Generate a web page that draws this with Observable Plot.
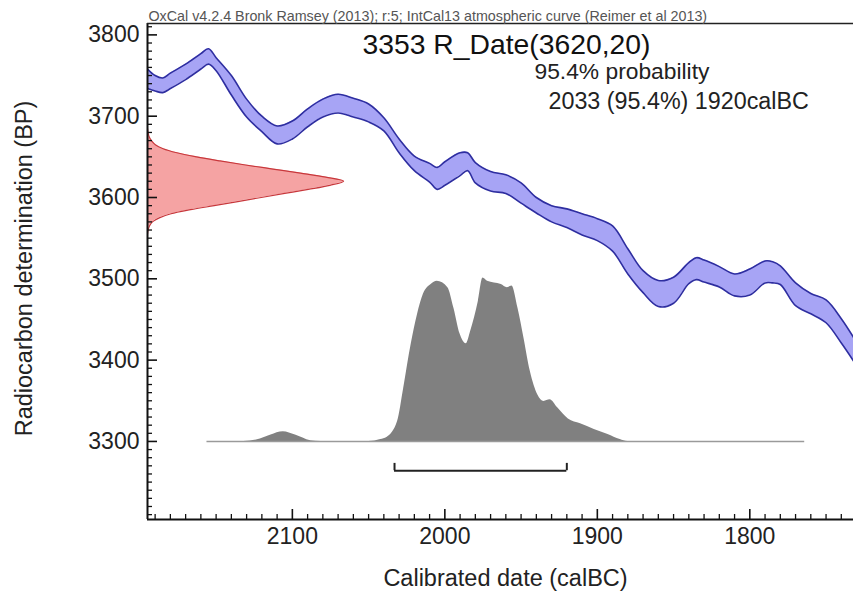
<!DOCTYPE html>
<html><head><meta charset="utf-8">
<script src="https://cdn.jsdelivr.net/npm/d3@7"></script>
<script src="https://cdn.jsdelivr.net/npm/@observablehq/plot@0.6"></script>
<style>
html,body{margin:0;padding:0;background:#fff;}
#chart svg{display:block}
</style></head><body><div id="chart"></div>
<script>
// IntCal13 calibration curve band (upper and lower edges, BP) by calendar year (calBC)
const curveYears = [2195,2190,2185,2180,2170,2160,2155,2150,2140,2130,2120,2110,2100,2090,2080,2070,2060,2050,2040,2030,2020,2010,2005,2000,1990,1985,1980,1970,1960,1950,1940,1930,1920,1910,1900,1890,1880,1870,1860,1850,1840,1835,1830,1820,1810,1800,1790,1785,1780,1770,1760,1750,1740,1732];
const curveUpper = [3758,3750,3747,3753,3764,3777,3783,3772,3750,3721,3700,3688,3694,3709,3721,3727,3722,3715,3698,3672,3651,3642,3637,3644,3655,3655,3643,3632,3628,3618,3600,3590,3586,3580,3574,3565,3537,3510,3498,3502,3520,3526,3523,3515,3506,3512,3522,3521,3516,3495,3482,3474,3451,3428];
const curveLower = [3734,3731,3729,3734,3745,3758,3764,3756,3726,3699,3681,3666,3672,3687,3699,3704,3699,3693,3682,3655,3633,3619,3610,3615,3627,3633,3618,3608,3605,3593,3581,3570,3563,3554,3547,3534,3506,3483,3466,3470,3494,3499,3496,3490,3479,3480,3495,3495,3493,3467,3457,3446,3421,3399];

// Radiocarbon measurement distribution (relative probability by BP)
const rBP   = [3685,3680,3675,3670,3665,3660,3655,3650,3645,3640,3635,3630,3625,3620,3615,3610,3605,3600,3595,3590,3585,3580,3575,3570,3565,3560,3555];
const rProb = [0,0.003,0.008,0.02,0.04,0.08,0.15,0.25,0.37,0.5,0.64,0.78,0.91,1.0,0.93,0.82,0.7,0.58,0.46,0.34,0.22,0.12,0.06,0.025,0.01,0.003,0];

// Calibrated distribution (relative probability by calBC)
const calYears = [2156,2132,2121,2114,2106,2098,2088,2081,2050,2042,2038,2031,2027,2022,2018,2014,2009,2005,1998,1994,1990,1986,1983,1978,1975,1972,1963,1959,1956,1952,1948,1944,1939,1935,1931,1926,1919,1911,1902,1893,1885,1880,1764];
const calProb  = [0,0,0.015,0.04,0.06,0.04,0.005,0,0,0.012,0.025,0.125,0.33,0.61,0.79,0.92,0.98,1.0,0.96,0.83,0.67,0.61,0.69,0.875,1.02,1.0,0.98,0.96,0.97,0.83,0.64,0.44,0.29,0.25,0.26,0.21,0.14,0.11,0.075,0.044,0.012,0,0];

// 95.4% range
const rangeFrom = 2033, rangeTo = 1920, rangeProb = 95.4;

// Axis ticks and text
const yTicks = [3300,3400,3500,3600,3700,3800];
const xTicks = [2100,2000,1900,1800];
const headerText = "OxCal v4.2.4 Bronk Ramsey (2013); r:5; IntCal13 atmospheric curve (Reimer et al 2013)";
const titleText = "3353 R_Date(3620,20)";
const probText = "95.4% probability";
const rangeText = `${rangeFrom} (${rangeProb}%) ${rangeTo}calBC`;
const xLabel = "Calibrated date (calBC)";
const yLabel = "Radiocarbon determination (BP)";

// ---- layout ----
const W = 853, H = 593;
const xDomain = [2195, 1732];
const yDomain = [3204, 3814];
const redWidthYears = 128.6;   // horizontal extent of measurement peak
const calHeightBP = 197;       // vertical extent of calibrated peak
const bracketBP = 3264, bracketTickBP = 3273;
const font = "'Liberation Sans', Arial, Helvetica, sans-serif";

const curve = curveYears.map((y, i) => ({year: y, hi: curveUpper[i], lo: curveLower[i]}));
const red = rBP.map((b, i) => ({bp: b, p: rProb[i]}));
const cal = calYears.map((y, i) => ({year: y, p: calProb[i]}));

const yMinor = d3.range(3210, 3811, 10).filter(v => !yTicks.includes(v));
const xMinor = d3.range(1740, 2191, 10).filter(v => !xTicks.includes(v));
const fmt = d => String(d);

const chart = Plot.plot({
  width: W, height: H,
  marginLeft: 147, marginRight: 0, marginTop: 23, marginBottom: 74,
  style: {fontFamily: font, background: "#fff", color: "#222"},
  x: {domain: xDomain},
  y: {domain: yDomain},
  marks: [
    // calibration curve band
    Plot.areaY(curve, {x: "year", y1: "lo", y2: "hi", fill: "#a7a4f5", curve: "catmull-rom", clip: true}),
    Plot.lineY(curve, {x: "year", y: "hi", stroke: "#2e2ea0", strokeWidth: 1.6, curve: "catmull-rom", clip: true}),
    Plot.lineY(curve, {x: "year", y: "lo", stroke: "#2e2ea0", strokeWidth: 1.6, curve: "catmull-rom", clip: true}),
    // measurement distribution on the y axis
    Plot.areaX(red, {y: "bp", x1: xDomain[0], x2: d => xDomain[0] - d.p * redWidthYears, fill: "#f5a3a3", curve: "catmull-rom", clip: true}),
    Plot.lineX(red, {y: "bp", x: d => xDomain[0] - d.p * redWidthYears, stroke: "#c8383c", strokeWidth: 1.2, curve: "catmull-rom", clip: true}),
    // calibrated distribution
    Plot.areaY(cal, {x: "year", y1: 3300, y2: d => 3300 + d.p * calHeightBP, fill: "#808080", curve: "monotone-x"}),
    Plot.ruleY([3300], {x1: d3.max(calYears), x2: d3.min(calYears), stroke: "#9a9a9a", strokeWidth: 1.5}),
    // range bracket
    Plot.ruleY([bracketBP], {x1: rangeFrom, x2: rangeTo, stroke: "#222", strokeWidth: 2}),
    Plot.ruleX([rangeFrom, rangeTo], {y1: bracketBP, y2: bracketTickBP, stroke: "#222", strokeWidth: 2}),
    // frame lines
    Plot.ruleX([xDomain[0]], {stroke: "#111", strokeWidth: 2}),
    Plot.ruleY([yDomain[0]], {stroke: "#111", strokeWidth: 2}),
    Plot.ruleY([yDomain[1]], {stroke: "#222", strokeWidth: 1.3}),
    // axes
    Plot.axisY(yTicks, {anchor: "left", tickSize: -10, tickPadding: 18, fontSize: 23, tickFormat: fmt, label: null, stroke: "#111", strokeWidth: 1.6, fill: "#222"}),
    Plot.axisY(yMinor, {anchor: "left", tickSize: -5, tickFormat: () => "", label: null, stroke: "#111", strokeWidth: 1.3}),
    Plot.axisX(xTicks, {anchor: "bottom", tickSize: -10, tickPadding: 18, fontSize: 23, tickFormat: fmt, label: null, stroke: "#111", strokeWidth: 1.6, fill: "#222"}),
    Plot.axisX(xMinor, {anchor: "bottom", tickSize: -5, tickFormat: () => "", label: null, stroke: "#111", strokeWidth: 1.3}),
    // axis labels
    Plot.text([yLabel], {text: d => d, frameAnchor: "left", dx: -123, dy: -3, rotate: -90, fontSize: 23.5, fill: "#222", lineAnchor: "middle", textAnchor: "middle"}),
    Plot.text([xLabel], {text: d => d, frameAnchor: "bottom", dx: 5, dy: 59, fontSize: 23.5, fill: "#222", lineAnchor: "middle", textAnchor: "middle"}),
    // header and annotations
    Plot.text([headerText], {text: d => d, frameAnchor: "top-left", dx: 1, dy: -3, fontSize: 14.3, fill: "#555", lineAnchor: "bottom", textAnchor: "start"}),
    Plot.text([titleText], {text: d => d, frameAnchor: "top-left", dx: 215, dy: 30, fontSize: 28.3, fill: "#111", lineAnchor: "bottom", textAnchor: "start"}),
    Plot.text([probText], {text: d => d, frameAnchor: "top-left", dx: 387, dy: 55, fontSize: 22.8, fill: "#222", lineAnchor: "bottom", textAnchor: "start"}),
    Plot.text([rangeText], {text: d => d, frameAnchor: "top-left", dx: 401, dy: 85, fontSize: 23.3, fill: "#222", lineAnchor: "bottom", textAnchor: "start"})
  ]
});
document.getElementById("chart").appendChild(chart);
</script>
</body></html>
